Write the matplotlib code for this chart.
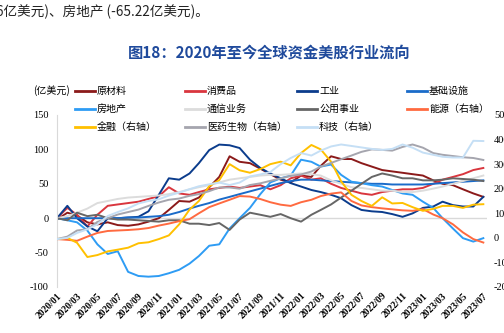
import matplotlib
matplotlib.use("Agg")
import matplotlib.pyplot as plt
import matplotlib.dates as mdates
import pandas as pd
from matplotlib.lines import Line2D

plt.rcParams['font.family'] = ['Noto Sans CJK SC', 'DejaVu Sans']
plt.rcParams['axes.unicode_minus'] = False

# monthly readings, 2020/01 .. 2023/07
dates = pd.date_range("2020-01-01", periods=43, freq="MS")

# left axis (亿美元)
materials = [-2, 8, 4, -6, -9, -6, -10, -11, -9, -5, 0, 12, 25, 24, 30, 45, 60, 90, 82, 80, 72,
             64, 56, 52, 62, 60, 76, 90, 86, 86, 80, 75, 70, 68, 66, 64, 62, 55, 50, 48, 42, 36, 31]
consumer = [0, 15, 5, -12, 5, 18, 20, 22, 24, 28, 32, 45, 36, 34, 38, 42, 44, 46, 44, 46, 48,
            42, 48, 58, 62, 56, 58, 50, 44, 40, 36, 34, 38, 40, 42, 42, 44, 50, 56, 60, 64, 70, 73]
industrial = [0, 18, 0, -12, -19, 0, 0, 1, 2, 10, 34, 58, 56, 65, 80, 99, 107, 106, 102, 85, 73,
              65, 58, 51, 46, 41, 38, 34, 29, 19, 12, 10, 9, 6, 2, 7, 15, 17, 24, 19, 17, 17, 31]
infra = [0, 0, 0, 0, 0, 0, 0, 1, 1, 2, 3, 5, 9, 14, 18, 22, 27, 31, 35, 39, 43,
         47, 51, 54, 56, 56, 55, 54, 53, 52, 51, 50, 50, 49, 49, 49, 49, 50, 51, 52, 53, 54, 55]
realestate = [0, -3, -6, -18, -38, -52, -48, -78, -84, -85, -84, -80, -75, -66, -55, -40, -38, -15, 0, 15, 35,
              52, 58, 62, 85, 82, 75, 78, 63, 53, 51, 48, 46, 41, 36, 34, 24, 15, 0, -15, -29, -34, -29]
telecom = [0, 3, 8, 14, 22, 25, 28, 30, 31, 32, 33, 35, 38, 42, 45, 48, 52, 56, 58, 60, 62,
           63, 63, 64, 65, 64, 62, 55, 50, 45, 44, 42, 40, 40, 38, 38, 40, 43, 46, 50, 54, 58, 62]
utilities = [0, -3, 8, 3, 5, 0, -2, -2, -3, -4, -5, -3, -3, -8, -8, -10, -7, -17, -2, 8, 5,
             2, 6, 0, -5, 5, 12, 20, 30, 40, 50, 60, 65, 62, 58, 58, 55, 55, 56, 58, 57, 56, 54]

# right axis
energy = [-5, -8, -12, 5, 20, 28, 30, 32, 35, 40, 50, 58, 68, 76, 100, 125, 140, 155, 170, 168, 158,
          145, 135, 130, 145, 155, 170, 180, 185, 150, 132, 125, 120, 116, 112, 110, 117, 95, 80, 55, 22, -5, -19]
finance = [-5, 0, -20, -78, -70, -55, -48, -40, -22, -18, -5, 10, 55, 115, 150, 210, 235, 300, 275, 265, 280,
           300, 310, 295, 345, 378, 360, 310, 230, 175, 150, 130, 165, 140, 142, 125, 110, 118, 130, 130, 122, 135, 137]
health = [-5, 5, 30, 35, 65, 80, 95, 105, 115, 130, 144, 155, 160, 171, 178, 190, 205, 205, 200, 215, 222,
          232, 242, 252, 258, 270, 290, 305, 320, 335, 350, 360, 358, 355, 370, 380, 367, 345, 338, 333, 328, 325, 317]
tech = [-5, 0, 20, 35, 55, 89, 105, 120, 140, 150, 157, 172, 184, 198, 210, 218, 225, 215, 225, 250, 258,
        268, 300, 325, 345, 335, 355, 372, 380, 374, 368, 362, 358, 362, 380, 367, 347, 338, 330, 327, 327, 395, 394]

left_series = [
    ("原材料", materials, "#8B1A1A"),
    ("消费品", consumer, "#D9363E"),
    ("工业", industrial, "#0B3C8C"),
    ("基础设施", infra, "#1A6BC9"),
    ("房地产", realestate, "#2E9CF4"),
    ("通信业务", telecom, "#DCDCDC"),
    ("公用事业", utilities, "#666666"),
]
right_series = [
    ("能源（右轴）", energy, "#FF6A40"),
    ("金融（右轴）", finance, "#FFC000"),
    ("医药生物（右轴）", health, "#A5A5AE"),
    ("科技（右轴）", tech, "#C5DFF5"),
]

W, H = 504, 333
fig = plt.figure(figsize=(W / 100, H / 100), dpi=100)
ax = fig.add_axes([57 / W, 1 - 287 / H, (487 - 57) / W, (287 - 115) / H])
ax2 = ax.twinx()

ax.axhline(0, color="#D9D9D9", lw=1, zorder=1)
for name, vals, color in left_series:
    ax.plot(dates, vals, color=color, lw=1.4, zorder=2)
for name, vals, color in right_series:
    ax2.plot(dates, vals, color=color, lw=1.4)

ax.set_ylim(-100, 150)
ax2.set_ylim(-200, 500)
ax.set_yticks(range(-100, 151, 50))
ax2.set_yticks(range(-200, 501, 100))
ax.set_xlim(pd.Timestamp("2020-01-01"), pd.Timestamp("2023-07-12"))
ax.xaxis.set_major_locator(mdates.MonthLocator(bymonth=[1, 3, 5, 7, 9, 11]))
ax.xaxis.set_major_formatter(mdates.DateFormatter("%Y/%m"))

for a in (ax, ax2):
    for s in a.spines.values():
        s.set_visible(False)
    a.tick_params(length=0)
ax.spines["left"].set_visible(True)
ax.spines["left"].set_color("#D9D9D9")

ax.tick_params(axis="y", pad=6)
ax2.tick_params(axis="y", pad=5)
ax.tick_params(axis="x", pad=3)
for lab in ax.get_yticklabels() + ax2.get_yticklabels():
    lab.set_fontfamily("Liberation Serif")
    lab.set_fontsize(7.5)
for lab in ax.get_xticklabels():
    lab.set_fontfamily("Liberation Serif")
    lab.set_fontsize(7)
    lab.set_fontweight("bold")
    lab.set_rotation(45)
    lab.set_ha("right")
    lab.set_rotation_mode("anchor")

# legend drawn by hand in four even columns
entries = left_series + right_series
order = ["原材料", "消费品", "工业", "基础设施",
         "房地产", "通信业务", "公用事业", "能源（右轴）",
         "金融（右轴）", "医药生物（右轴）", "科技（右轴）"]
colors = {n: c for n, v, c in entries}
col_x = [75, 185, 297, 407]
row_y = [91, 109, 127]
for i, name in enumerate(order):
    x0 = col_x[i % 4]
    y0 = row_y[i // 4]
    fig.add_artist(Line2D([x0 / W, (x0 + 20) / W], [1 - y0 / H] * 2,
                          color=colors[name], lw=2, transform=fig.transFigure))
    fig.text((x0 + 22) / W, 1 - y0 / H, name, fontsize=7.2, va="center", ha="left")

fig.text(33 / W, 1 - 91 / H, "(亿美元)", fontsize=7.2, va="center", ha="left")

fig.text(269 / W, 1 - 53 / H, "图18：2020年至今全球资金美股行业流向", fontsize=11,
         fontweight="bold", color="#1F4A9C", ha="center", va="center")
fig.text(-4 / W, 1 - 12 / H, "6亿美元)、房地产 (-65.22亿美元)。", fontsize=9.8,
         color="#222222", ha="left", va="center")

fig.savefig("out.png", dpi=100)
